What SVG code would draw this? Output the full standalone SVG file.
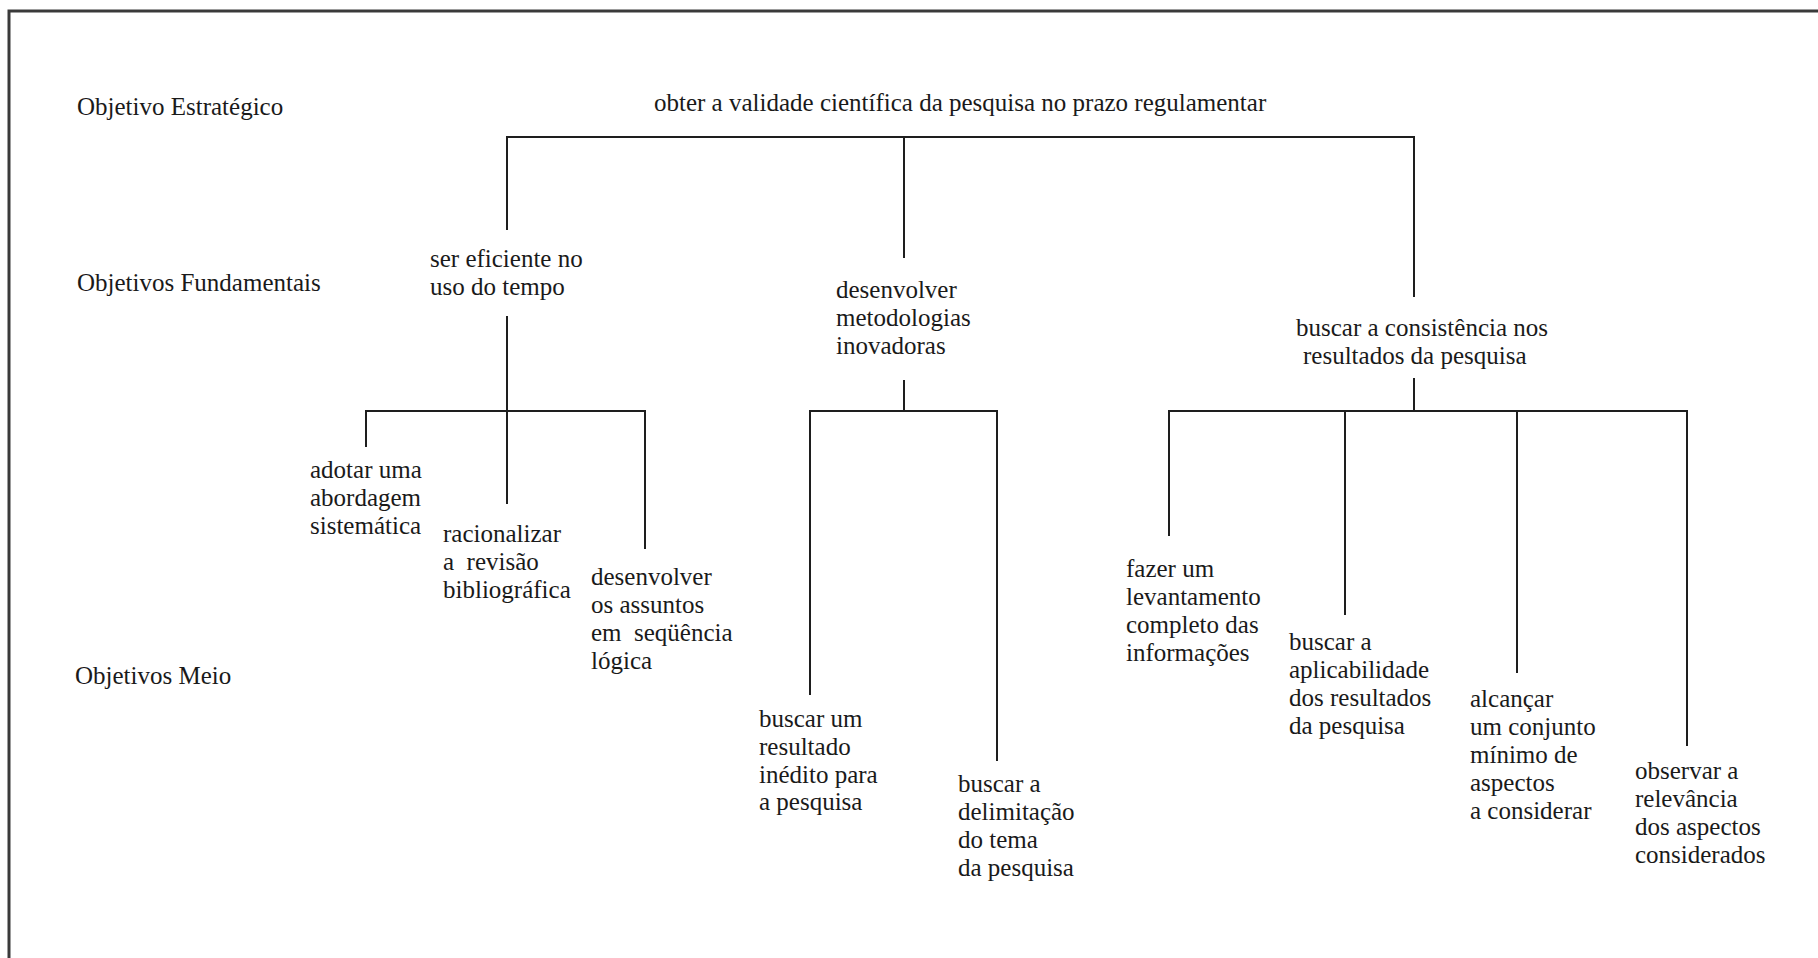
<svg xmlns="http://www.w3.org/2000/svg" width="1818" height="958" viewBox="0 0 1818 958">
<style>
  text { font-family: "Liberation Serif", "Times New Roman", serif; font-size: 25px; fill: #1a1a1a; white-space: pre; }
  .ln { stroke: #1e1e1e; stroke-width: 2; fill: none; }
  .frame { stroke: #3a3a3a; stroke-width: 3; fill: none; }
</style>
<rect width="1818" height="958" fill="#ffffff"/>
<path class="frame" d="M9,958 V11 H1818"/>

<g id="levels">
  <text x="77" y="115">Objetivo Estratégico</text>
  <text x="77" y="291">Objetivos Fundamentais</text>
  <text x="75" y="684">Objetivos Meio</text>
</g>

<g id="connectors">
  <path class="ln" d="M507,230 V137 H1414 V297"/>
  <path class="ln" d="M904,137 V258"/>
  <path class="ln" d="M507,316 V504"/>
  <path class="ln" d="M366,447 V411 H645 V549"/>
  <path class="ln" d="M904,380 V411"/>
  <path class="ln" d="M810,695 V411 H997 V761"/>
  <path class="ln" d="M1414,378 V411"/>
  <path class="ln" d="M1169,536 V411 H1687 V746"/>
  <path class="ln" d="M1345,411 V615"/>
  <path class="ln" d="M1517,411 V673"/>
</g>

<g id="n-root"><text x="654" y="111">obter a validade científica da pesquisa no prazo regulamentar</text></g>

<g id="n-eficiente">
  <text x="430" y="267">ser eficiente no</text>
  <text x="430" y="295">uso do tempo</text>
</g>
<g id="n-metodologias">
  <text x="836" y="298">desenvolver</text>
  <text x="836" y="326">metodologias</text>
  <text x="836" y="354">inovadoras</text>
</g>
<g id="n-consistencia">
  <text x="1296" y="336">buscar a consistência nos</text>
  <text x="1303" y="364">resultados da pesquisa</text>
</g>

<g id="n-adotar">
  <text x="310" y="478">adotar uma</text>
  <text x="310" y="506">abordagem</text>
  <text x="310" y="534">sistemática</text>
</g>
<g id="n-racionalizar">
  <text x="443" y="542">racionalizar</text>
  <text x="443" y="570">a  revisão</text>
  <text x="443" y="598">bibliográfica</text>
</g>
<g id="n-assuntos">
  <text x="591" y="585">desenvolver</text>
  <text x="591" y="613">os assuntos</text>
  <text x="591" y="641">em  seqüência</text>
  <text x="591" y="669">lógica</text>
</g>
<g id="n-inedito">
  <text x="759" y="727">buscar um</text>
  <text x="759" y="755">resultado</text>
  <text x="759" y="783">inédito para</text>
  <text x="759" y="810">a pesquisa</text>
</g>
<g id="n-delimitacao">
  <text x="958" y="792">buscar a</text>
  <text x="958" y="820">delimitação</text>
  <text x="958" y="848">do tema</text>
  <text x="958" y="876">da pesquisa</text>
</g>
<g id="n-levantamento">
  <text x="1126" y="577">fazer um</text>
  <text x="1126" y="605">levantamento</text>
  <text x="1126" y="633">completo das</text>
  <text x="1126" y="661">informações</text>
</g>
<g id="n-aplicabilidade">
  <text x="1289" y="650">buscar a</text>
  <text x="1289" y="678">aplicabilidade</text>
  <text x="1289" y="706">dos resultados</text>
  <text x="1289" y="734">da pesquisa</text>
</g>
<g id="n-conjunto">
  <text x="1470" y="707">alcançar</text>
  <text x="1470" y="735">um conjunto</text>
  <text x="1470" y="763">mínimo de</text>
  <text x="1470" y="791">aspectos</text>
  <text x="1470" y="819">a considerar</text>
</g>
<g id="n-relevancia">
  <text x="1635" y="779">observar a</text>
  <text x="1635" y="807">relevância</text>
  <text x="1635" y="835">dos aspectos</text>
  <text x="1635" y="863">considerados</text>
</g>
</svg>
